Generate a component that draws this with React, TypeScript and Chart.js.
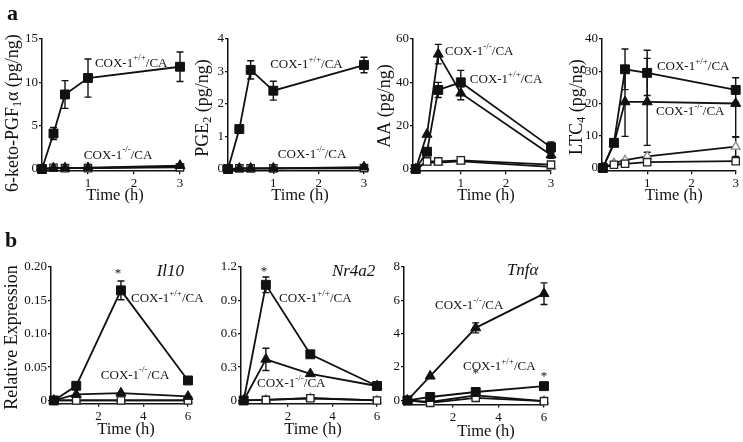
import React, { useEffect, useRef } from "react";
import { Chart, registerables } from "chart.js";

Chart.register(...registerables);

const FONT = "'Liberation Serif', 'Times New Roman', serif";
const W = 743;
const H = 442;
const YW = 30; // fixed y-scale box width
const XH = 22; // fixed x-scale box height

// ---------------- data ----------------
const timesA = [0, 0.25, 0.5, 1, 3];
const timesB = [0, 1, 3, 6];
const xTicksA = [1, 2, 3];
const xTicksB = [2, 4, 6];

// a1: 6-keto-PGF1a
const pgfTicks = [0, 5, 10, 15];
const pgfTickLabels = ["0", "5", "10", "15"];
const pgfWtCA = [0, 4.1, 8.6, 10.5, 11.8];
const pgfWtCAErr = [0, 0.7, 1.6, 2.2, 1.7];
const pgfKoCA = [0, 0.1, 0.1, 0.15, 0.4];
const pgfWt = [0, 0.15, 0.1, 0.1, 0.2];
const pgfKo = [0, 0.1, 0.1, 0.1, 0.3];

// a2: PGE2
const pgeTicks = [0, 1, 2, 3, 4];
const pgeTickLabels = ["0", "1", "2", "3", "4"];
const pgeWtCA = [0, 1.23, 3.05, 2.41, 3.2];
const pgeWtCAErr = [0, 0, 0.28, 0.29, 0.24];
const pgeKoCA = [0, 0.02, 0.02, 0.02, 0.06];
const pgeWt = [0, 0.02, 0.02, 0.02, 0.03];
const pgeKo = [0, 0.01, 0.01, 0.02, 0.02];

// a3: AA
const aaTicks = [0, 20, 40, 60];
const aaTickLabels = ["0", "20", "40", "60"];
const aaWtCA = [0, 8, 36.5, 40, 10];
const aaWtCAErr = [0, 0, 3.5, 5.5, 2.5];
const aaKoCA = [0, 16, 53, 35, 6.5];
const aaKoCAErr = [0, 0, 4.5, 3, 1.5];
const aaWt = [0, 3.5, 3.5, 4, 2];
const aaKo = [0, 3, 3, 3.5, 1];

// a4: LTC4
const ltcTicks = [0, 10, 20, 30, 40];
const ltcTickLabels = ["0", "10", "20", "30", "40"];
const ltcWtCA = [0, 7.8, 30.6, 29.5, 24.2];
const ltcWtCAErr = [0, 0, 6.3, 7, 3.8];
const ltcKoCA = [0, 7.5, 20.5, 20.5, 20];
const ltcKoCAErr: (number | number[])[] = [0, 0, 10.7, 13.5, [10.3, 0]];
const ltcWt = [0, 1, 1.3, 1.8, 2.1];
const ltcKo = [0, 1.5, 2.4, 3.6, 6.6];
const ltcKoErr = [0, 0, 0, 1.3, 3];

// b1: Il10
const il10Ticks = [0, 0.05, 0.1, 0.15, 0.2];
const il10TickLabels = ["0", "0.05", "0.10", "0.15", "0.20"];
const il10WtCA = [0, 0.022, 0.165, 0.03];
const il10WtCAErr = [0, 0, 0.014, 0];
const il10KoCA = [0, 0.009, 0.011, 0.006];
const il10Wt = [0, 0, 0, 0];
const il10Ko = [0, 0, 0, 0];

// b2: Nr4a2
const nrTicks = [0, 0.3, 0.6, 0.9, 1.2];
const nrTickLabels = ["0", "0.3", "0.6", "0.9", "1.2"];
const nrWtCA = [0, 1.04, 0.415, 0.13];
const nrWtCAErr = [0, 0.07, 0, 0];
const nrKoCA = [0, 0.37, 0.24, 0.13];
const nrKoCAErr = [0, 0.1, 0, 0];
const nrWt = [0, 0.005, 0.02, 0];
const nrKo = [0, 0.005, 0.02, 0];

// b3: Tnfa
const tnfTicks = [0, 2, 4, 6, 8];
const tnfTickLabels = ["0", "2", "4", "6", "8"];
const tnfKoCA = [0, 1.45, 4.35, 6.4];
const tnfKoCAErr = [0, 0, 0.3, 0.65];
const tnfWtCA = [0, 0.2, 0.5, 0.85];
const tnfWt = [0, -0.15, 0.15, -0.05];
const tnfKo = [0, -0.1, 0.3, -0.05];

// ---------------- styles ----------------
const STYLE: Record<string, any> = {
  wtCA: { pointStyle: "rect", r: 6.3, bg: "#111", bc: "#111", bw: 1, order: 0 },
  koCA: { pointStyle: "triangle", r: 5.8, bg: "#111", bc: "#111", bw: 1, order: 1 },
  wt: { pointStyle: "rect", r: 5.2, bg: "#fff", bc: "#222", bw: 1.3, order: 2 },
  ko: { pointStyle: "triangle", r: 5, bg: "#fff", bc: "#888", bw: 1.3, order: 3 },
};

type Part = { t: string; k?: "sup" | "sub" | "n" };

function drawParts(ctx: CanvasRenderingContext2D, x: number, y: number, parts: Part[], size: number, align: "left" | "center", style = "") {
  const fontFor = (k?: string) => {
    const s = k === "sup" || k === "sub" ? Math.round(size * 0.68) : size;
    return `${style}${s}px ${FONT}`;
  };
  ctx.textAlign = "left";
  ctx.textBaseline = "middle";
  let total = 0;
  for (const p of parts) {
    ctx.font = fontFor(p.k);
    total += ctx.measureText(p.t).width;
  }
  let cx = align === "center" ? x - total / 2 : x;
  for (const p of parts) {
    ctx.font = fontFor(p.k);
    const dy = p.k === "sup" ? -size * 0.4 : p.k === "sub" ? size * 0.28 : 0;
    ctx.fillText(p.t, cx, y + dy);
    cx += ctx.measureText(p.t).width;
  }
}

const errorBarPlugin = {
  id: "errbars",
  beforeDatasetsDraw(chart: any) {
    const ctx = chart.ctx;
    const ys = chart.scales.y;
    ctx.save();
    ctx.strokeStyle = "#111";
    ctx.lineWidth = 1.4;
    chart.data.datasets.forEach((ds: any, i: number) => {
      const errs = ds.errors;
      if (!errs) return;
      const meta = chart.getDatasetMeta(i);
      errs.forEach((e: any, j: number) => {
        if (!e) return;
        const [lo, hi] = Array.isArray(e) ? e : [e, e];
        const v = ds.data[j].y;
        const px = meta.data[j].x;
        const yHi = ys.getPixelForValue(v + hi);
        const yLo = ys.getPixelForValue(v - lo);
        ctx.beginPath();
        ctx.moveTo(px, yHi);
        ctx.lineTo(px, yLo);
        if (hi) {
          ctx.moveTo(px - 3.5, yHi);
          ctx.lineTo(px + 3.5, yHi);
        }
        if (lo) {
          ctx.moveTo(px - 3.5, yLo);
          ctx.lineTo(px + 3.5, yLo);
        }
        ctx.stroke();
      });
    });
    ctx.restore();
  },
};

type Panel = {
  times: number[];
  xTicks: number[];
  xMin: number;
  xMax: number;
  yMin: number;
  yMax: number;
  yTicks: number[];
  yTickLabels: string[];
  area: { left: number; right: number; top: number; bottom: number };
  series: { kind: string; values: number[]; errors?: any[] }[];
  yTitle?: { parts: Part[]; dx: number; dy: number };
  xTitle: { dx: number; dy: number };
  labels: { x: number; y: number; sup: string }[];
  gene?: { t: string; x: number; y: number };
  stars?: { x: number; y: number }[];
  letter?: { t: string; x: number; y: number };
};

const PANELS: Panel[] = [
  {
    times: timesA, xTicks: xTicksA, xMin: 0, xMax: 3, yMin: -0.25, yMax: 15,
    yTicks: pgfTicks, yTickLabels: pgfTickLabels,
    area: { left: 42, right: 180, top: 39, bottom: 171.2 },
    series: [
      { kind: "ko", values: pgfKo },
      { kind: "wt", values: pgfWt },
      { kind: "koCA", values: pgfKoCA },
      { kind: "wtCA", values: pgfWtCA, errors: pgfWtCAErr },
    ],
    yTitle: { parts: [{ t: "6-keto-PGF" }, { t: "1", k: "sub" }, { t: "α (pg/ng)" }], dx: -29, dy: 8 },
    xTitle: { dx: 4, dy: 24.5 },
    labels: [
      { x: 1.15, y: 12.2, sup: "+/+" },
      { x: 0.91, y: 1.6, sup: "-/-" },
    ],
    letter: { t: "a", x: 7, y: 20 },
  },
  {
    times: timesA, xTicks: xTicksA, xMin: 0, xMax: 3, yMin: -0.06, yMax: 4,
    yTicks: pgeTicks, yTickLabels: pgeTickLabels,
    area: { left: 228, right: 364, top: 39, bottom: 171 },
    series: [
      { kind: "ko", values: pgeKo },
      { kind: "wt", values: pgeWt },
      { kind: "koCA", values: pgeKoCA },
      { kind: "wtCA", values: pgeWtCA, errors: pgeWtCAErr },
    ],
    yTitle: { parts: [{ t: "PGE" }, { t: "2", k: "sub" }, { t: " (pg/ng)" }], dx: -25, dy: 3 },
    xTitle: { dx: 4, dy: 24.5 },
    labels: [
      { x: 0.93, y: 3.2, sup: "+/+" },
      { x: 1.1, y: 0.43, sup: "-/-" },
    ],
  },
  {
    times: timesA, xTicks: xTicksA, xMin: -0.06, xMax: 3, yMin: -1, yMax: 60,
    yTicks: aaTicks, yTickLabels: aaTickLabels,
    area: { left: 413, right: 551, top: 39, bottom: 171.2 },
    series: [
      { kind: "ko", values: aaKo },
      { kind: "wt", values: aaWt },
      { kind: "koCA", values: aaKoCA, errors: aaKoCAErr },
      { kind: "wtCA", values: aaWtCA, errors: aaWtCAErr },
    ],
    yTitle: { parts: [{ t: "AA (pg/ng)" }], dx: -28, dy: 1 },
    xTitle: { dx: 4, dy: 24.5 },
    labels: [
      { x: 0.65, y: 54, sup: "-/-" },
      { x: 1.2, y: 41.1, sup: "+/+" },
    ],
  },
  {
    times: timesA, xTicks: xTicksA, xMin: -0.02, xMax: 3, yMin: -1, yMax: 40,
    yTicks: ltcTicks, yTickLabels: ltcTickLabels,
    area: { left: 602, right: 738, top: 39, bottom: 171.2 },
    series: [
      { kind: "ko", values: ltcKo, errors: ltcKoErr },
      { kind: "wt", values: ltcWt },
      { kind: "koCA", values: ltcKoCA, errors: ltcKoCAErr },
      { kind: "wtCA", values: ltcWtCA, errors: ltcWtCAErr },
    ],
    yTitle: { parts: [{ t: "LTC" }, { t: "4", k: "sub" }, { t: " (pg/ng)" }], dx: -25, dy: 2 },
    xTitle: { dx: 5, dy: 24.5 },
    labels: [
      { x: 1.22, y: 31.4, sup: "+/+" },
      { x: 1.2, y: 17.4, sup: "-/-" },
    ],
  },
  {
    times: timesB, xTicks: xTicksB, xMin: -0.13, xMax: 6, yMin: -0.005, yMax: 0.2,
    yTicks: il10Ticks, yTickLabels: il10TickLabels,
    area: { left: 51, right: 188, top: 267, bottom: 403.8 },
    series: [
      { kind: "ko", values: il10Ko },
      { kind: "wt", values: il10Wt },
      { kind: "koCA", values: il10KoCA },
      { kind: "wtCA", values: il10WtCA, errors: il10WtCAErr },
    ],
    yTitle: { parts: [{ t: "Relative Expression" }], dx: -39, dy: 2 },
    xTitle: { dx: 6.5, dy: 26 },
    labels: [
      { x: 3.45, y: 0.152, sup: "+/+" },
      { x: 2.1, y: 0.038, sup: "-/-" },
    ],
    gene: { t: "Il10", x: 4.6, y: 0.193 },
    stars: [{ x: 2.87, y: 0.19 }],
    letter: { t: "b", x: 5, y: 247 },
  },
  {
    times: timesB, xTicks: xTicksB, xMin: -0.12, xMax: 6, yMin: -0.03, yMax: 1.2,
    yTicks: nrTicks, yTickLabels: nrTickLabels,
    area: { left: 241, right: 377, top: 267, bottom: 403.8 },
    series: [
      { kind: "ko", values: nrKo },
      { kind: "wt", values: nrWt },
      { kind: "koCA", values: nrKoCA, errors: nrKoCAErr },
      { kind: "wtCA", values: nrWtCA, errors: nrWtCAErr },
    ],
    xTitle: { dx: 4, dy: 26 },
    labels: [
      { x: 1.59, y: 0.913, sup: "+/+" },
      { x: 0.6, y: 0.148, sup: "-/-" },
    ],
    gene: { t: "Nr4a2", x: 3.97, y: 1.156 },
    stars: [{ x: 0.91, y: 1.156 }],
  },
  {
    times: timesB, xTicks: xTicksB, xMin: -0.15, xMax: 6, yMin: -0.25, yMax: 8,
    yTicks: tnfTicks, yTickLabels: tnfTickLabels,
    area: { left: 404, right: 544, top: 267, bottom: 404.5 },
    series: [
      { kind: "ko", values: tnfKo },
      { kind: "wt", values: tnfWt },
      { kind: "wtCA", values: tnfWtCA },
      { kind: "koCA", values: tnfKoCA, errors: tnfKoCAErr },
    ],
    xTitle: { dx: 12, dy: 27.5 },
    labels: [
      { x: 1.21, y: 5.66, sup: "-/-" },
      { x: 2.44, y: 2.0, sup: "+/+" },
    ],
    gene: { t: "Tnfα", x: 4.37, y: 7.76 },
    stars: [
      { x: 3, y: 1.58 },
      { x: 6, y: 1.4 },
    ],
  },
];

function buildChart(canvas: HTMLCanvasElement, p: Panel) {
  const datasets = p.series.map((s) => {
    const st = STYLE[s.kind];
    return {
      label: s.kind,
      data: p.times.map((t, i) => ({ x: t, y: s.values[i] })),
      errors: s.errors,
      borderColor: "#111",
      borderWidth: 1.8,
      pointStyle: st.pointStyle,
      pointRadius: st.r,
      pointBackgroundColor: st.bg,
      pointBorderColor: st.bc,
      pointBorderWidth: st.bw,
      order: st.order,
      clip: false,
      tension: 0,
      fill: false,
    };
  });

  const textPlugin = {
    id: "panelText",
    afterDraw(chart: any) {
      const ctx: CanvasRenderingContext2D = chart.ctx;
      const a = chart.chartArea;
      const xs = chart.scales.x;
      const ys = chart.scales.y;
      ctx.save();
      ctx.fillStyle = "#111";
      for (const an of p.labels) {
        drawParts(ctx, xs.getPixelForValue(an.x), ys.getPixelForValue(an.y),
          [{ t: "COX-1" }, { t: an.sup, k: "sup" }, { t: "/CA" }], 13, "left");
      }
      if (p.gene) {
        drawParts(ctx, xs.getPixelForValue(p.gene.x), ys.getPixelForValue(p.gene.y), [{ t: p.gene.t }], 17, "left", "italic ");
      }
      if (p.stars) {
        ctx.font = `13px ${FONT}`;
        ctx.textAlign = "center";
        ctx.textBaseline = "middle";
        for (const s of p.stars) ctx.fillText("*", xs.getPixelForValue(s.x), ys.getPixelForValue(s.y));
      }
      if (p.yTitle) {
        ctx.save();
        ctx.translate(a.left + p.yTitle.dx, (a.top + a.bottom) / 2 + p.yTitle.dy);
        ctx.rotate(-Math.PI / 2);
        drawParts(ctx, 0, 0, p.yTitle.parts, 18, "center");
        ctx.restore();
      }
      drawParts(ctx, (a.left + a.right) / 2 + p.xTitle.dx, a.bottom + p.xTitle.dy, [{ t: "Time (h)" }], 16.5, "center");
      if (p.letter) {
        ctx.font = `bold 22px ${FONT}`;
        ctx.textAlign = "left";
        ctx.textBaseline = "alphabetic";
        ctx.fillText(p.letter.t, p.letter.x, p.letter.y);
      }
      ctx.restore();
    },
  };

  const tickFont = { family: FONT, size: 13 };

  return new Chart(canvas, {
    type: "line",
    data: { datasets } as any,
    options: {
      responsive: false,
      animation: false,
      events: [],
      layout: {
        padding: {
          left: p.area.left - YW,
          right: W - p.area.right,
          top: p.area.top,
          bottom: H - p.area.bottom - XH,
        },
      },
      scales: {
        x: {
          type: "linear",
          min: p.xMin,
          max: p.xMax,
          afterBuildTicks: (s: any) => {
            s.ticks = p.xTicks.map((v) => ({ value: v }));
          },
          afterFit: (s: any) => {
            s.height = XH;
            s.paddingLeft = 0;
            s.paddingRight = 0;
          },
          grid: { display: true, drawOnChartArea: false, drawTicks: true, tickLength: 3, color: "#111", lineWidth: 1.3 },
          border: { display: true, color: "#111", width: 1.5 },
          ticks: {
            color: "#111", font: tickFont, padding: 2, maxRotation: 0, autoSkip: false,
            callback: (v: any) => String(v),
          },
        },
        y: {
          type: "linear",
          min: p.yMin,
          max: p.yMax,
          afterBuildTicks: (s: any) => {
            s.ticks = p.yTicks.map((v) => ({ value: v }));
          },
          afterFit: (s: any) => {
            s.width = YW;
            s.paddingTop = 0;
            s.paddingBottom = 0;
          },
          grid: { display: true, drawOnChartArea: false, drawTicks: true, tickLength: 3, color: "#111", lineWidth: 1.3 },
          border: { display: true, color: "#111", width: 1.5 },
          ticks: {
            color: "#111", font: tickFont, padding: 1, autoSkip: false,
            callback: (v: any, i: number) => p.yTickLabels[i] ?? String(v),
          },
        },
      },
      plugins: { legend: { display: false }, tooltip: { enabled: false } },
    } as any,
    plugins: [errorBarPlugin, textPlugin],
  });
}

function PanelCanvas({ p }: { p: Panel }) {
  const ref = useRef<HTMLCanvasElement>(null);
  useEffect(() => {
    if (!ref.current) return;
    const c = buildChart(ref.current, p);
    return () => c.destroy();
  }, [p]);
  return (
    <canvas
      ref={ref}
      width={W}
      height={H}
      style={{ position: "absolute", left: 0, top: 0, width: W, height: H }}
    />
  );
}

export default function App() {
  return (
    <div style={{ position: "fixed", left: 0, top: 0, width: W, height: H, background: "#fff", overflow: "hidden" }}>
      {PANELS.map((p, i) => (
        <PanelCanvas key={i} p={p} />
      ))}
    </div>
  );
}
